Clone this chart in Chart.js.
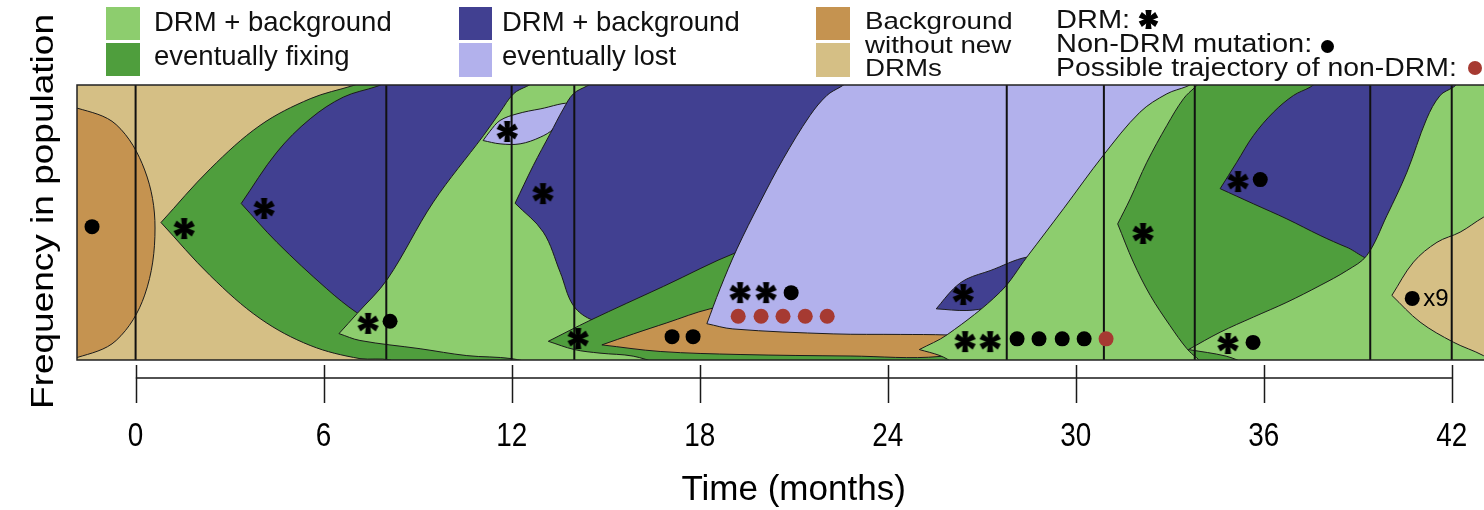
<!DOCTYPE html>
<html>
<head>
<meta charset="utf-8">
<script src="https://cdn.jsdelivr.net/npm/chart.js@4.4.1/dist/chart.umd.min.js"></script>
<style>
  body { margin: 0; background: #fff; }
  #wrap { position: relative; width: 1484px; height: 510px; overflow: hidden;
          font-family: "Liberation Sans", Arial, Helvetica, sans-serif; color: #111; }
  #wrap canvas { position: absolute; left: 0; top: 0; }
  .box, .txt, .dot { position: absolute; }
  .txt { white-space: nowrap; }
  .dot { border-radius: 50%; }
</style>
</head>
<body>
<div id="wrap"><canvas id="muller" width="1484" height="510"></canvas></div>
<script>
// Time axis (months)
const tickMonths = [0, 6, 12, 18, 24, 30, 36, 42];
const sampleMonths = [0, 8, 12, 14, 27.8, 30.9, 33.8, 39.4, 42];

// Clone outlines as [month, frequency] pairs, painting order
const ancestralNonDrm = [[-2.41, 0.916], [-1.87, 0.916], [-0.62, 0.856], [0.29, 0.691], [0.62, 0.48],
    [0.29, 0.236], [-0.62, 0.071], [-1.87, 0.009], [-2.41, 0.009]];
const fixingA = [[0.81, 0.50], [2.38, 0.695], [3.97, 0.853], [5.57, 0.950], [6.94, 0.998], [7.8, 1.03],
    [13.5, 1.03], [13.5, -0.03], [8.6, -0.03], [8.12, 0.0], [7.16, 0.005], [5.57, 0.053], [3.97, 0.151],
    [2.38, 0.307], [0.81, 0.50]];
const lostB = [[3.37, 0.569], [4.51, 0.756], [5.57, 0.877], [6.63, 0.956], [7.70, 0.995], [8.5, 1.03],
    [12.9, 1.03], [12.9, 0.089], [10.04, 0.089], [7.80, 0.125], [7.06, 0.172], [6.10, 0.259],
    [4.51, 0.428], [3.37, 0.569]];
const fixingC = [[6.49, 0.096], [7.07, 0.169], [8.03, 0.293], [9.50, 0.574], [11.10, 0.816], [11.63, 0.901],
    [12.06, 0.968], [12.48, 0.995], [13.2, 1.03], [17.5, 1.03], [17.5, -0.03], [13.5, -0.03], [12.0, 0.005],
    [10.57, 0.016], [9.08, 0.041], [7.16, 0.071], [6.49, 0.096]];
const lostP = [[11.09, 0.798], [11.31, 0.832], [11.63, 0.871], [12.17, 0.895], [12.91, 0.913], [13.85, 0.93],
    [13.33, 0.841], [12.91, 0.81], [12.27, 0.786], [11.63, 0.786], [11.09, 0.798]];
const lostD = [[12.11, 0.570], [13.01, 0.465], [13.55, 0.319], [13.97, 0.198], [14.61, 0.144], [16.42, 0.096],
    [18.65, 0.144], [23.44, 0.216], [23.44, 1.03], [15.0, 1.03], [14.40, 0.996], [13.97, 0.968],
    [13.65, 0.913], [13.23, 0.823], [12.69, 0.707], [12.11, 0.570]];
const fixingE = [[13.17, 0.068], [14.50, 0.144], [16.85, 0.268], [19.19, 0.392], [20.57, 0.435], [22.0, 0.30],
    [26.3, 0.20], [26.6, -0.03], [17.4, -0.03], [15.88, 0.014], [14.82, 0.025], [14.0, 0.038], [13.17, 0.068]];
const nonDrmG = [[14.88, 0.055], [15.89, 0.095], [16.95, 0.135], [18.33, 0.186], [19.93, 0.216], [24.4, 0.18],
    [26.15, 0.136], [26.47, 0.053], [25.67, 0.013], [22.80, 0.0145], [19.29, 0.02], [16.74, 0.031],
    [14.88, 0.055]];
const lostF = [[18.23, 0.132], [18.65, 0.259], [19.19, 0.404], [19.93, 0.574], [20.67, 0.732], [21.52, 0.889],
    [22.06, 0.962], [22.48, 0.992], [23.1, 1.03], [33.84, 1.035], [32.37, 0.762], [30.78, 0.58],
    [28.55, 0.307], [27.27, 0.18], [26.31, 0.085], [25.90, 0.091], [24.40, 0.093], [22.26, 0.095],
    [19.06, 0.113], [18.23, 0.132]];
const lostI = [[25.55, 0.186], [26.10, 0.259], [26.53, 0.295], [27.27, 0.325], [28.44, 0.374], [28.9, 0.36],
    [27.9, 0.216], [27.27, 0.192], [26.53, 0.18], [25.55, 0.186]];
const fixingH = [[25.01, 0.038], [25.90, 0.092], [27.59, 0.247], [28.44, 0.374], [29.61, 0.55], [30.88, 0.744],
    [32.05, 0.901], [32.91, 0.968], [33.55, 0.995], [34.2, 1.03], [44, 1.03], [44, -0.03], [26.6, -0.03],
    [25.67, 0.016], [25.01, 0.038]];
const fixingJ = [[31.34, 0.495], [31.84, 0.356], [32.38, 0.235], [33.01, 0.125], [33.55, 0.041], [33.87, 0.007],
    [34.3, -0.03], [44, -0.03], [44, 1.03], [34.2, 1.03], [33.81, 0.992], [33.44, 0.95], [32.91, 0.853],
    [32.27, 0.719], [31.74, 0.586], [31.34, 0.495]];
const lostL = [[34.61, 0.623], [35.14, 0.719], [35.67, 0.816], [36.31, 0.901], [36.95, 0.962], [37.48, 0.992],
    [38.0, 1.03], [42.5, 1.035], [41.89, 0.871], [40.90, 0.58], [39.59, 0.369], [38.65, 0.41],
    [37.80, 0.453], [36.74, 0.513], [35.67, 0.568], [34.61, 0.623]];
const fixingK = [[33.60, 0.038], [34.61, 0.101], [35.67, 0.156], [36.74, 0.21], [37.80, 0.271], [38.65, 0.325],
    [39.29, 0.38], [39.93, 0.525], [40.57, 0.683], [41.20, 0.877], [41.63, 0.962], [42.05, 0.992],
    [42.5, 1.03], [44, 1.03], [44, -0.03], [36, -0.03], [34.8, 0.014], [33.60, 0.038]];
const nonDrmN = [[40.09, 0.235], [40.78, 0.356], [41.53, 0.428], [42.27, 0.465], [43.01, 0.519], [43.6, 0.551],
    [43.6, -0.03], [43.01, 0.016], [42.05, 0.065], [40.99, 0.138], [40.09, 0.235]];

// Mutation marks [month, frequency]
const drmMarks = [[1.55, 0.478], [4.10, 0.551], [7.42, 0.133], [11.86, 0.831], [13.00, 0.605], [14.12, 0.078],
    [19.29, 0.245], [20.12, 0.245], [26.41, 0.238], [26.47, 0.067], [27.27, 0.067], [32.15, 0.46],
    [35.18, 0.649], [34.86, 0.06]];
const nonDrmMarks = [[-1.39, 0.485], [8.12, 0.141], [17.12, 0.085], [17.79, 0.085], [20.92, 0.245],
    [28.13, 0.077], [28.83, 0.077], [29.57, 0.077], [30.27, 0.077], [35.89, 0.656], [35.66, 0.064],
    [40.74, 0.224]];
const possibleMarks = [[19.23, 0.159], [19.96, 0.159], [20.66, 0.159], [21.37, 0.159], [22.07, 0.159],
    [30.97, 0.077]];
const repeatLabel = 'x9'; // attached to the last non-DRM mark

const COLORS = {
    fixLight: '#8dcd6e',
    fixDark: '#4f9e3d',
    lostDark: '#414091',
    lostLight: '#b2b1ec',
    bgDark: '#c59350',
    bgLight: '#d5bf85',
    possible: '#a63a32',
    ink: '#111'
};

// Painting order, bottom first
const clones = [
    { data: ancestralNonDrm, color: COLORS.bgDark },
    { data: fixingA, color: COLORS.fixDark },
    { data: lostB, color: COLORS.lostDark },
    { data: fixingC, color: COLORS.fixLight },
    { data: lostP, color: COLORS.lostLight },
    { data: lostD, color: COLORS.lostDark },
    { data: fixingE, color: COLORS.fixDark },
    { data: nonDrmG, color: COLORS.bgDark },
    { data: lostF, color: COLORS.lostLight },
    { data: lostI, color: COLORS.lostDark },
    { data: fixingH, color: COLORS.fixLight },
    { data: fixingJ, color: COLORS.fixDark },
    { data: lostL, color: COLORS.lostDark },
    { data: fixingK, color: COLORS.fixLight },
    { data: nonDrmN, color: COLORS.bgLight }
];

const FONT = '"Liberation Sans", Arial, Helvetica, sans-serif';

/**
 * Draws a six-armed bold asterisk into a small canvas, used as a point style.
 */
function makeAsterisk(r) {
    const s = Math.ceil(2 * r + 6);
    const c = document.createElement('canvas');
    c.width = s; c.height = s;
    const g = c.getContext('2d');
    g.translate(s / 2, s / 2);
    g.fillStyle = '#000';
    for (let k = 0; k < 6; k++) {
        const a = -Math.PI / 2 + k * Math.PI / 3;
        const ux = Math.cos(a), uy = Math.sin(a);
        const px = -uy, py = ux;
        g.beginPath();
        g.moveTo(px * 1.8, py * 1.8);
        g.lineTo(ux * r + px * 3.1, uy * r + py * 3.1);
        g.lineTo(ux * r - px * 3.1, uy * r - py * 3.1);
        g.lineTo(-px * 1.8, -py * 1.8);
        g.closePath();
        g.fill();
    }
    g.beginPath(); g.arc(0, 0, 2.8, 0, Math.PI * 2); g.fill();
    return c;
}

const toPoints = arr => arr.map(([x, y]) => ({ x, y }));

// Build datasets: later entries are drawn on top
const datasets = [];
function push(ds) {
    ds.order = 1000 - datasets.length;
    datasets.push(ds);
}

clones.forEach(cl => push({
    data: toPoints(cl.data),
    backgroundColor: cl.color,
    borderColor: '#1b1b1b',
    borderWidth: 1,
    fill: 'shape',
    tension: 0.35,
    pointRadius: 0
}));

sampleMonths.forEach(m => push({
    data: [{ x: m, y: -0.05 }, { x: m, y: 1.05 }],
    borderColor: COLORS.ink,
    borderWidth: 2,
    fill: false,
    tension: 0.001,
    pointRadius: 0
}));

push({
    data: toPoints(possibleMarks),
    showLine: false,
    pointStyle: 'circle',
    pointRadius: 7.5,
    pointBorderWidth: 0,
    pointBackgroundColor: COLORS.possible
});
push({
    data: toPoints(nonDrmMarks),
    showLine: false,
    pointStyle: 'circle',
    pointRadius: 7.5,
    pointBorderWidth: 0,
    pointBackgroundColor: '#000'
});
push({
    data: toPoints(drmMarks),
    showLine: false,
    pointStyle: makeAsterisk(10.5),
    pointRadius: 10
});

// Plot background, frame, annotation and the time axis
const mullerFrame = {
    id: 'mullerFrame',
    beforeDatasetsDraw(chart) {
        const { ctx, chartArea: a } = chart;
        ctx.save();
        ctx.fillStyle = COLORS.bgLight;
        ctx.fillRect(a.left, a.top, a.right - a.left, a.bottom - a.top);
        ctx.restore();
    },
    afterDatasetsDraw(chart) {
        const { ctx, chartArea: a, scales: { x, y } } = chart;
        ctx.save();
        ctx.strokeStyle = '#222';
        ctx.lineWidth = 1.5;
        ctx.beginPath();
        ctx.moveTo(a.right, a.top); ctx.lineTo(a.left, a.top);
        ctx.lineTo(a.left, a.bottom); ctx.lineTo(a.right, a.bottom);
        ctx.stroke();

        const last = nonDrmMarks[nonDrmMarks.length - 1];
        ctx.fillStyle = '#000';
        ctx.font = '24px ' + FONT;
        ctx.textBaseline = 'alphabetic';
        ctx.fillText(repeatLabel, x.getPixelForValue(last[0]) + 11, y.getPixelForValue(last[1]) + 8);
        ctx.restore();
    },
    afterDraw(chart) {
        const { ctx, chartArea: a, scales: { x } } = chart;
        const axisY = a.bottom + 18;
        const x0 = x.getPixelForValue(tickMonths[0]);
        const x1 = x.getPixelForValue(tickMonths[tickMonths.length - 1]);
        ctx.save();
        ctx.strokeStyle = '#1a1a1a';
        ctx.lineWidth = 1.5;
        ctx.beginPath();
        ctx.moveTo(x0, axisY); ctx.lineTo(x1, axisY);
        tickMonths.forEach(m => {
            const px = Math.round(x.getPixelForValue(m)) + 0.5;
            ctx.moveTo(px, axisY - 13); ctx.lineTo(px, axisY + 25);
        });
        ctx.stroke();

        ctx.fillStyle = '#000';
        ctx.textAlign = 'center';
        ctx.textBaseline = 'alphabetic';
        ctx.font = '34px ' + FONT;
        tickMonths.forEach(m => {
            ctx.save();
            ctx.translate(x.getPixelForValue(m), 446);
            ctx.scale(0.82, 1);
            ctx.fillText(String(m), 0, 0);
            ctx.restore();
        });

        ctx.font = '35px ' + FONT;
        ctx.fillText('Time (months)', (x0 + x1) / 2, 500);

        ctx.save();
        ctx.translate(53, (a.top + a.bottom) / 2 - 11);
        ctx.rotate(-Math.PI / 2);
        ctx.scale(1, 0.85);
        ctx.font = '37px ' + FONT;
        ctx.fillText('Frequency in population', 0, 0);
        ctx.restore();
        ctx.restore();
    }
};

new Chart(document.getElementById('muller'), {
    type: 'line',
    data: { datasets },
    options: {
        responsive: false,
        animation: false,
        events: [],
        layout: { autoPadding: false, padding: { left: 77, top: 85, right: 0, bottom: 150 } },
        plugins: {
            legend: { display: false },
            tooltip: { enabled: false }
        },
        scales: {
            x: { type: 'linear', min: -1.87, max: 43.03, display: false },
            y: { type: 'linear', min: 0, max: 1, display: false }
        }
    },
    plugins: [mullerFrame]
});

// Legend (HTML)
const wrap = document.getElementById('wrap');

function addBox(left, top, w, h, color) {
    const d = document.createElement('div');
    d.className = 'box';
    d.style.cssText += `left:${left}px;top:${top}px;width:${w}px;height:${h}px;background:${color}`;
    wrap.appendChild(d);
}

function addText(str, left, baseline, size, sy) {
    const d = document.createElement('div');
    d.className = 'txt';
    d.textContent = str;
    const asc = 0.8465 * size;
    d.style.cssText += `left:${left}px;top:${baseline - asc}px;font-size:${size}px;line-height:${size}px;` +
        `transform-origin:0 ${asc}px;transform:scaleY(${sy || 1})`;
    wrap.appendChild(d);
}

function addDot(cx, cy, r, color) {
    const d = document.createElement('div');
    d.className = 'dot';
    d.style.cssText += `left:${cx - r}px;top:${cy - r}px;width:${2 * r}px;height:${2 * r}px;background:${color}`;
    wrap.appendChild(d);
}

addBox(106, 7, 34, 33, COLORS.fixLight);
addBox(106, 43, 34, 33, COLORS.fixDark);
addText('DRM + background', 154, 31, 27.5);
addText('eventually fixing', 154, 65, 27.5);

addBox(459, 7, 33, 33, COLORS.lostDark);
addBox(459, 43, 33, 34, COLORS.lostLight);
addText('DRM + background', 502, 31, 27.5);
addText('eventually lost', 502, 65, 27.5);

addBox(816, 7, 34, 33, COLORS.bgDark);
addBox(816, 43, 34, 34, COLORS.bgLight);
addText('Background', 865, 29.3, 27.7, 0.89);
addText('without new', 865, 53.3, 27.7, 0.89);
addText('DRMs', 865, 76.7, 27.7, 0.89);

addText('DRM:', 1056, 28.5, 29, 0.88);
addText('Non-DRM mutation:', 1056, 52.5, 29, 0.88);
addText('Possible trajectory of non-DRM:', 1056, 76.5, 28.4, 0.9);
const star = makeAsterisk(9.5);
star.style.left = (1148 - star.width / 2) + 'px';
star.style.top = (19 - star.height / 2) + 'px';
wrap.appendChild(star);
addDot(1327, 46, 6.5, '#000');
addDot(1475, 68, 7, COLORS.possible);
</script>
</body>
</html>
